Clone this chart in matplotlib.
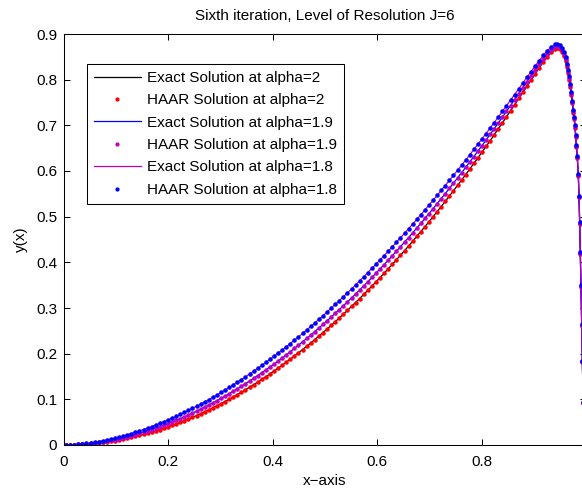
import numpy as np
import matplotlib
matplotlib.use('agg')
import matplotlib.pyplot as plt

plt.rcParams['font.family'] = ['Liberation Sans', 'DejaVu Sans']

# collocation points of the Haar grid, J=6 -> 128 points, the last ones are listed in the tail
x_grid = (np.arange(1, 122) - 0.5) / 128
x_tail = [0.945, 0.950, 0.954, 0.958, 0.961, 0.964, 0.966, 0.968, 0.970, 0.972, 0.974,
          0.9757, 0.9775, 0.9789, 0.9803, 0.9818, 0.9833, 0.9853, 0.9866, 0.9879, 0.9891,
          0.9904, 0.9918, 0.9930, 0.9945, 0.9960]

# alpha = 2
y_a20 = [0.0000, 0.0001, 0.0004, 0.0007, 0.0012, 0.0018, 0.0026, 0.0034, 0.0044, 0.0055,
         0.0067, 0.0081, 0.0095, 0.0111, 0.0128, 0.0147, 0.0166, 0.0187, 0.0209, 0.0232,
         0.0257, 0.0282, 0.0309, 0.0337, 0.0366, 0.0397, 0.0429, 0.0462, 0.0496, 0.0531,
         0.0568, 0.0606, 0.0645, 0.0685, 0.0726, 0.0769, 0.0813, 0.0858, 0.0905, 0.0952,
         0.1001, 0.1051, 0.1102, 0.1155, 0.1209, 0.1264, 0.1320, 0.1377, 0.1436, 0.1496,
         0.1557, 0.1619, 0.1682, 0.1747, 0.1813, 0.1880, 0.1948, 0.2018, 0.2089, 0.2161,
         0.2234, 0.2309, 0.2384, 0.2461, 0.2539, 0.2619, 0.2699, 0.2781, 0.2864, 0.2948,
         0.3034, 0.3120, 0.3208, 0.3297, 0.3388, 0.3479, 0.3572, 0.3666, 0.3761, 0.3858,
         0.3955, 0.4054, 0.4154, 0.4256, 0.4358, 0.4462, 0.4567, 0.4673, 0.4780, 0.4889,
         0.4999, 0.5110, 0.5222, 0.5336, 0.5451, 0.5567, 0.5684, 0.5802, 0.5922, 0.6043,
         0.6165, 0.6288, 0.6413, 0.6538, 0.6665, 0.6793, 0.6923, 0.7053, 0.7185, 0.7318,
         0.7453, 0.7588, 0.7722, 0.7858, 0.7993, 0.8128, 0.8260, 0.8386, 0.8501, 0.8600,
         0.8666,
         0.869, 0.867, 0.860, 0.851, 0.840, 0.828, 0.815, 0.800, 0.784, 0.767, 0.748,
         0.728, 0.713, 0.695, 0.674, 0.652, 0.628, 0.589, 0.542, 0.484, 0.419,
         0.346, 0.261, 0.181, 0.091, 0.018]

# alpha = 1.9
y_a19 = [0.0000, 0.0002, 0.0006, 0.0011, 0.0017, 0.0025, 0.0035, 0.0046, 0.0058, 0.0071,
         0.0086, 0.0103, 0.0120, 0.0139, 0.0160, 0.0181, 0.0204, 0.0228, 0.0254, 0.0280,
         0.0308, 0.0337, 0.0368, 0.0399, 0.0432, 0.0466, 0.0502, 0.0538, 0.0576, 0.0615,
         0.0655, 0.0697, 0.0739, 0.0783, 0.0828, 0.0875, 0.0922, 0.0971, 0.1020, 0.1071,
         0.1123, 0.1177, 0.1231, 0.1287, 0.1343, 0.1401, 0.1460, 0.1521, 0.1582, 0.1645,
         0.1708, 0.1773, 0.1839, 0.1906, 0.1975, 0.2044, 0.2114, 0.2186, 0.2259, 0.2333,
         0.2408, 0.2484, 0.2561, 0.2640, 0.2719, 0.2800, 0.2882, 0.2965, 0.3049, 0.3134,
         0.3220, 0.3307, 0.3396, 0.3486, 0.3576, 0.3668, 0.3761, 0.3855, 0.3950, 0.4045,
         0.4143, 0.4241, 0.4341, 0.4441, 0.4543, 0.4646, 0.4750, 0.4854, 0.4960, 0.5067,
         0.5175, 0.5285, 0.5395, 0.5506, 0.5619, 0.5732, 0.5847, 0.5962, 0.6079, 0.6197,
         0.6316, 0.6436, 0.6556, 0.6678, 0.6802, 0.6926, 0.7052, 0.7178, 0.7305, 0.7433,
         0.7563, 0.7694, 0.7822, 0.7953, 0.8084, 0.8212, 0.8337, 0.8458, 0.8567, 0.8659,
         0.8719,
         0.874, 0.872, 0.865, 0.856, 0.845, 0.832, 0.819, 0.804, 0.788, 0.770, 0.751,
         0.731, 0.716, 0.698, 0.676, 0.655, 0.630, 0.591, 0.544, 0.486, 0.421,
         0.348, 0.263, 0.183, 0.093, 0.019]

# alpha = 1.8
y_a18 = [0.0000, 0.0003, 0.0008, 0.0015, 0.0024, 0.0035, 0.0047, 0.0061, 0.0076, 0.0093,
         0.0111, 0.0131, 0.0152, 0.0174, 0.0198, 0.0224, 0.0250, 0.0278, 0.0308, 0.0338,
         0.0370, 0.0403, 0.0438, 0.0473, 0.0510, 0.0548, 0.0587, 0.0628, 0.0670, 0.0712,
         0.0756, 0.0802, 0.0848, 0.0896, 0.0944, 0.0994, 0.1045, 0.1097, 0.1150, 0.1205,
         0.1260, 0.1317, 0.1375, 0.1433, 0.1493, 0.1554, 0.1616, 0.1679, 0.1744, 0.1809,
         0.1875, 0.1942, 0.2011, 0.2080, 0.2151, 0.2222, 0.2295, 0.2368, 0.2443, 0.2518,
         0.2595, 0.2673, 0.2752, 0.2831, 0.2912, 0.2994, 0.3077, 0.3161, 0.3245, 0.3331,
         0.3418, 0.3505, 0.3594, 0.3685, 0.3775, 0.3867, 0.3959, 0.4053, 0.4148, 0.4242,
         0.4340, 0.4437, 0.4536, 0.4635, 0.4735, 0.4837, 0.4940, 0.5042, 0.5147, 0.5251,
         0.5358, 0.5466, 0.5573, 0.5682, 0.5792, 0.5902, 0.6015, 0.6127, 0.6240, 0.6355,
         0.6471, 0.6587, 0.6703, 0.6821, 0.6941, 0.7061, 0.7183, 0.7305, 0.7426, 0.7550,
         0.7675, 0.7800, 0.7924, 0.8049, 0.8175, 0.8297, 0.8416, 0.8531, 0.8633, 0.8719,
         0.8772,
         0.879, 0.877, 0.870, 0.860, 0.849, 0.835, 0.822, 0.807, 0.791, 0.773, 0.754,
         0.733, 0.718, 0.700, 0.678, 0.657, 0.632, 0.593, 0.546, 0.488, 0.423,
         0.350, 0.265, 0.185, 0.095, 0.020]

x = np.concatenate([x_grid, x_tail])

fs = 11
lw = 0.9
ms = 4.5

fig = plt.figure(figsize=(5.82, 4.91), dpi=100)
# axes run past the right edge of the picture, like the cropped original
ax = fig.add_axes([64 / 582, 46 / 491, 522 / 582, 411 / 491])

ax.plot(x, y_a20, '-', color='k', lw=lw, label='Exact Solution at alpha=2')
ax.plot(x, y_a20, '.', color='r', ms=ms, label='HAAR Solution at alpha=2')
ax.plot(x, y_a19, '-', color='b', lw=lw, label='Exact Solution at alpha=1.9')
ax.plot(x, y_a19, '.', color='m', ms=ms, label='HAAR Solution at alpha=1.9')
ax.plot(x, y_a18, '-', color='m', lw=lw, label='Exact Solution at alpha=1.8')
ax.plot(x, y_a18, '.', color='b', ms=ms, label='HAAR Solution at alpha=1.8')

ax.set_xlim(0, 1)
ax.set_ylim(0, 0.9)
ax.set_xticks(np.arange(0, 1.01, 0.2))
# the "1" label falls outside the cropped picture
ax.set_xticklabels(['0', '0.2', '0.4', '0.6', '0.8', ''])
ax.set_yticks(np.arange(0, 0.91, 0.1))
ax.set_yticklabels(['0', '0.1', '0.2', '0.3', '0.4', '0.5', '0.6', '0.7', '0.8', '0.9'])
ax.tick_params(which='both', direction='in', top=True, right=True, length=4, width=0.75,
               labelsize=fs, pad=5)
ax.tick_params(axis='x', pad=7)
for sp in ax.spines.values():
    sp.set_linewidth(0.75)

ax.set_xlabel('x\u2212axis', fontsize=fs, labelpad=4)
ax.set_ylabel('y(x)', fontsize=fs, labelpad=6)
ax.set_title('Sixth iteration, Level of Resolution J=6', fontsize=fs, pad=10)

leg = ax.legend(loc='upper left', bbox_to_anchor=(0.0435, 0.927), borderaxespad=0,
                fontsize=fs, frameon=True, fancybox=False, framealpha=1,
                edgecolor='k', handlelength=3.1, handletextpad=0.4,
                labelspacing=0.55, borderpad=0.45, markerscale=0.9)
leg.get_frame().set_linewidth(0.75)

fig.savefig('out.png', dpi=100)
